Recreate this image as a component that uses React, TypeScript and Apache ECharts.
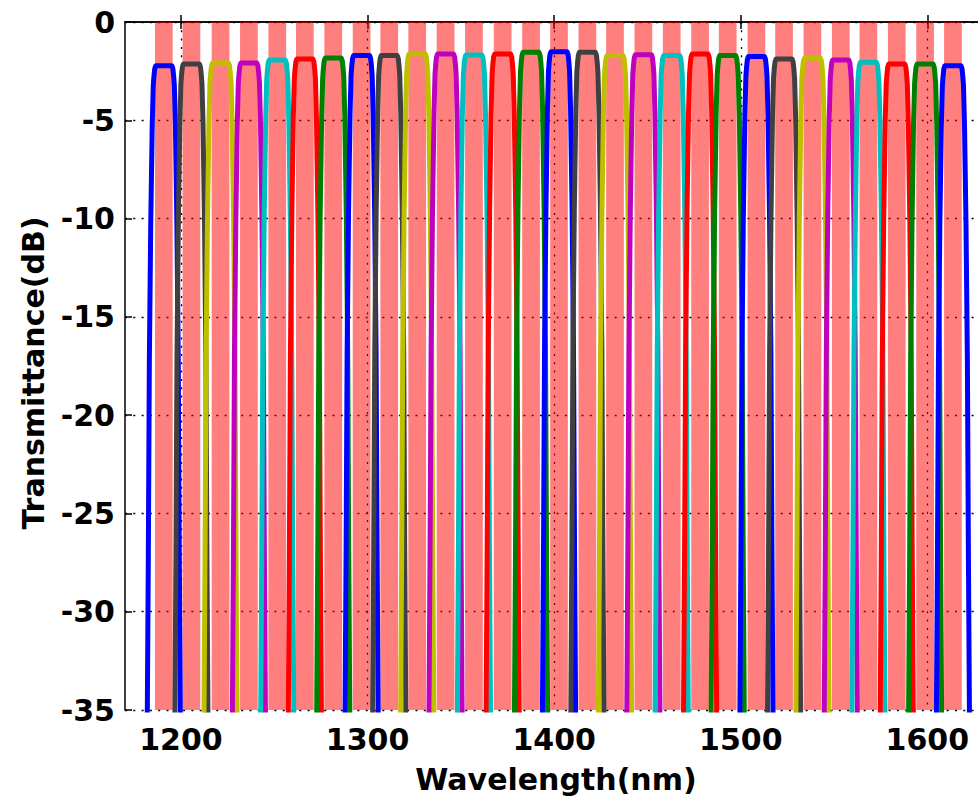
import { useEffect, useRef } from 'react';
import * as echarts from 'echarts';

const channelCenterNm = [
  1190.8, 1205.6, 1221.2, 1236.4, 1251.6, 1266.4, 1281.6, 1296.8, 1311.6, 1326.6,
  1341.8, 1357.0, 1372.4, 1387.6, 1402.6, 1417.8, 1432.6, 1447.8, 1463.0, 1478.2,
  1493.0, 1508.4, 1523.2, 1538.4, 1553.6, 1568.4, 1583.6, 1598.8, 1613.7,
];

// Peak (flat-top) transmittance of each channel (dB)
const channelPeakDb = [
  -2.22, -2.14, -2.09, -2.09, -1.93, -1.88, -1.83, -1.71, -1.71, -1.62,
  -1.63, -1.68, -1.63, -1.54, -1.51, -1.54, -1.71, -1.66, -1.71, -1.63,
  -1.71, -1.75, -1.88, -1.85, -1.93, -2.05, -2.14, -2.14, -2.22,
];

const profileOffsetNm = [-9.4, -8.85, -8.3, -7.75, -7.0, -6.2, -5.65, -5.25, -4.85, -4.3, 0, 4.3, 4.85, 5.25, 5.65, 6.2, 7.0, 7.75, 8.3, 8.85, 9.4];
const profileDropDb = [45, 33, 25, 15, 8, 3, 1, 0.5, 0.15, 0, 0, 0, 0.15, 0.5, 1, 3, 8, 15, 25, 33, 45];

// Half width of the shaded channel band (nm)
const bandHalfWidthNm = [4.75];

const channelColors = ['#0000FF', '#404040', '#BFBF00', '#BF00BF', '#00BFBF', '#FF0000', '#008000'];

const xTickValues = [1200, 1300, 1400, 1500, 1600];
const yTickValues = [0, -5, -10, -15, -20, -25, -30, -35];

const FONT = '"DejaVu Sans", "Liberation Sans", Arial, sans-serif';

export default function App() {
  const ref = useRef<HTMLDivElement>(null);

  useEffect(() => {
    document.body.style.margin = '0';
    const chart = echarts.init(ref.current!, null, { renderer: 'svg' });

    const yMin = yTickValues[yTickValues.length - 1];
    const yMax = yTickValues[0];
    const hw = bandHalfWidthNm[0];

    const lineSeries = channelCenterNm.map((c, k) => ({
      type: 'line',
      name: 'ch' + (k + 1),
      data: profileOffsetNm.map((o, i) => [c + o, channelPeakDb[k] - profileDropDb[i]]),
      showSymbol: false,
      symbol: 'none',
      smooth: false,
      clip: true,
      z: 3,
      lineStyle: { color: channelColors[k % channelColors.length], width: 5, join: 'round', cap: 'butt' },
      itemStyle: { color: channelColors[k % channelColors.length] },
      emphasis: { disabled: true },
    }));

    const bandSeries = {
      type: 'custom',
      name: 'bands',
      data: channelCenterNm.map((c) => [c, yMax]),
      encode: { x: 0, y: 1 },
      z: 2,
      clip: true,
      renderItem: (params: any, api: any) => {
        const c = api.value(0);
        const p1 = api.coord([c - hw, yMax]);
        const p2 = api.coord([c + hw, yMin]);
        return {
          type: 'rect',
          shape: { x: p1[0], y: p1[1], width: p2[0] - p1[0], height: p2[1] - p1[1] },
          style: { fill: 'rgba(255,0,0,0.5)' },
        };
      },
      silent: true,
    };

    const axisLabelStyle = { fontFamily: FONT, fontWeight: 'bold', fontSize: 30, color: '#000' };

    chart.setOption({
      animation: false,
      backgroundColor: '#fff',
      grid: { left: 125, top: 22, bottom: 90, right: -24, containLabel: false, outerBoundsMode: 'none' },
      xAxis: [
        {
          type: 'value',
          min: 1170,
          max: 1640,
          position: 'bottom',
          axisLine: { show: true, lineStyle: { color: '#000', width: 1.5 } },
          axisTick: { show: true, inside: true, length: 7, customValues: xTickValues, lineStyle: { color: '#000', width: 1.5 } },
          axisLabel: { show: true, customValues: xTickValues, margin: 14, formatter: (v: number) => String(v), ...axisLabelStyle },
          splitLine: { show: true, lineStyle: { color: '#000', width: 1.3, type: [2, 6.3] } },
        },
        {
          type: 'value',
          min: 1170,
          max: 1640,
          position: 'top',
          axisLine: { show: true, onZero: false, lineStyle: { color: '#000', width: 1.5 } },
          axisTick: { show: true, inside: true, length: 7, customValues: xTickValues, lineStyle: { color: '#000', width: 1.5 } },
          axisLabel: { show: false },
          splitLine: { show: false },
        },
      ],
      yAxis: {
        type: 'value',
        min: yMin,
        max: yMax,
        interval: 5,
        axisLine: { show: true, onZero: false, lineStyle: { color: '#000', width: 1.5 } },
        axisTick: { show: true, inside: true, length: 7, lineStyle: { color: '#000', width: 1.5 } },
        axisLabel: { show: true, margin: 10, formatter: (v: number) => String(v), ...axisLabelStyle },
        splitLine: { show: true, lineStyle: { color: '#000', width: 1.3, type: [2, 6.3] } },
      },
      graphic: [
        {
          type: 'text',
          x: 556,
          y: 779,
          style: {
            text: 'Wavelength(nm)',
            font: 'bold 30px ' + FONT,
            fill: '#000',
            align: 'center',
            verticalAlign: 'middle',
            textAlign: 'center',
            textVerticalAlign: 'middle',
          },
        },
        {
          type: 'text',
          x: 33,
          y: 373,
          rotation: Math.PI / 2,
          style: {
            text: 'Transmittance(dB)',
            font: 'bold 30px ' + FONT,
            fill: '#000',
            align: 'center',
            verticalAlign: 'middle',
            textAlign: 'center',
            textVerticalAlign: 'middle',
          },
        },
      ],
      series: [bandSeries, ...lineSeries],
    });

    return () => chart.dispose();
  }, []);

  return <div ref={ref} style={{ position: 'absolute', left: 0, top: 0, width: 978, height: 800 }} />;
}
